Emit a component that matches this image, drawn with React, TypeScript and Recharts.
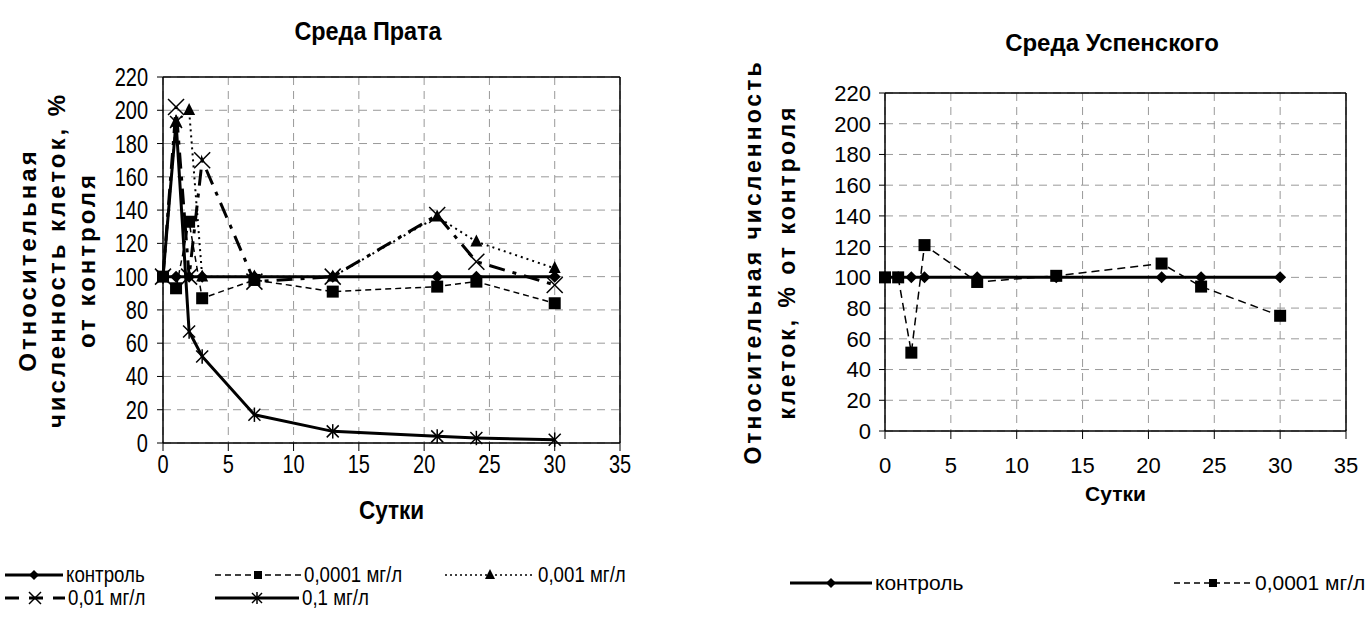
import React from 'react';
import {
  LineChart, Line, XAxis, YAxis, CartesianGrid, ReferenceLine, Label,
} from 'recharts';

const days: number[] = [0, 1, 2, 3, 7, 13, 21, 24, 30];

// Среда Прата
const prataControl: number[] = [100, 100, 100, 100, 100, 100, 100, 100, 100];
const prata0001: number[] = [100, 93, 133, 87, 98, 91, 94, 97, 84];
const prata001: number[] = [100, 193, 200, 100, 100, 100, 136, 121, 105];
const prata01: number[] = [100, 202, 100, 170, 97, 100, 137, 109, 95];
const prata1: number[] = [100, 193, 67, 52, 17, 7, 4, 3, 2];

// Среда Успенского
const uspControl: number[] = [100, 100, 100, 100, 100, 100, 100, 100, 100];
const usp0001: number[] = [100, 100, 51, 121, 97, 101, 109, 94, 75];

const xTicks: number[] = [0, 5, 10, 15, 20, 25, 30, 35];
const yTicks: number[] = [0, 20, 40, 60, 80, 100, 120, 140, 160, 180, 200, 220];

const prataData = days.map((d, i) => ({
  day: d,
  control: prataControl[i],
  c0001: prata0001[i],
  c001: prata001[i],
  c01: prata01[i],
  c1: prata1[i],
}));

const uspData = days.map((d, i) => ({
  day: d,
  control: uspControl[i],
  c0001: usp0001[i],
}));

const FONT = "'Liberation Sans', Arial, sans-serif";
const NARROW = 0.8; // left chart text is condensed in the original

type Kind = 'diamond' | 'square' | 'triangle' | 'cross' | 'star';

const Marker = ({ kind, cx, cy, s }: { kind: Kind; cx: number; cy: number; s: number }) => {
  if (kind === 'diamond') {
    return <polygon points={`${cx},${cy - s} ${cx + s},${cy} ${cx},${cy + s} ${cx - s},${cy}`} fill="#000" />;
  }
  if (kind === 'square') {
    return <rect x={cx - s} y={cy - s} width={s * 2} height={s * 2} fill="#000" />;
  }
  if (kind === 'triangle') {
    return <polygon points={`${cx},${cy - s * 1.2} ${cx + s},${cy + s * 0.8} ${cx - s},${cy + s * 0.8}`} fill="#000" />;
  }
  if (kind === 'cross') {
    return (
      <g stroke="#000" strokeWidth={1.5}>
        <line x1={cx - s} y1={cy - s} x2={cx + s} y2={cy + s} />
        <line x1={cx - s} y1={cy + s} x2={cx + s} y2={cy - s} />
      </g>
    );
  }
  return (
    <g stroke="#000" strokeWidth={1.5}>
      <line x1={cx - s} y1={cy - s} x2={cx + s} y2={cy + s} />
      <line x1={cx - s} y1={cy + s} x2={cx + s} y2={cy - s} />
      <line x1={cx} y1={cy - s * 1.2} x2={cx} y2={cy + s * 1.2} />
    </g>
  );
};

const dotOf = (kind: Kind, s: number, name: string) => (p: any) => (
  <Marker key={`${name}-${p.index}`} kind={kind} cx={p.cx} cy={p.cy} s={s} />
);

const tickOf = (axis: 'x' | 'y', size: number, sx: number) => (p: any) => {
  const { x, y, payload } = p;
  return (
    <text
      transform={`translate(${x},${y}) scale(${sx},1)`}
      textAnchor={axis === 'x' ? 'middle' : 'end'}
      dy={axis === 'x' ? size * 0.72 : size * 0.36}
      fontFamily={FONT}
      fontSize={size}
      fill="#000"
    >
      {payload.value}
    </text>
  );
};

const YLabel = ({ viewBox, lines, xs, size }: any) => {
  const cy = viewBox.y + viewBox.height / 2;
  return (
    <g>
      {lines.map((t: string, i: number) => (
        <text
          key={t}
          x={xs[i]}
          y={cy}
          transform={`rotate(-90 ${xs[i]} ${cy})`}
          textAnchor="middle"
          dominantBaseline="central"
          fontFamily={FONT}
          fontWeight="bold"
          fontSize={size}
          letterSpacing={3}
          fill="#000"
        >
          {t}
        </text>
      ))}
    </g>
  );
};

interface LegendItem {
  x: number;
  y: number;
  w: number;
  dash?: string;
  width: number;
  kind: Kind;
  s: number;
  text: string;
}

const prataLegend: LegendItem[] = [
  { x: 5, y: 575, w: 58, width: 3, kind: 'diamond', s: 5, text: 'контроль' },
  { x: 215, y: 575, w: 86, dash: '6 4', width: 1.5, kind: 'square', s: 4, text: '0,0001 мг/л' },
  { x: 445, y: 575, w: 90, dash: '2 3', width: 1.5, kind: 'triangle', s: 5, text: '0,001 мг/л' },
  { x: 5, y: 598, w: 60, dash: '14 10', width: 3, kind: 'cross', s: 6, text: '0,01 мг/л' },
  { x: 215, y: 598, w: 84, width: 3, kind: 'star', s: 5, text: '0,1 мг/л' },
];

const uspLegend: LegendItem[] = [
  { x: 790, y: 583, w: 82, width: 3, kind: 'diamond', s: 5, text: 'контроль' },
  { x: 1174, y: 583, w: 78, dash: '6 4', width: 1.5, kind: 'square', s: 4, text: '0,0001 мг/л' },
];

const LegendRow = ({ items, size, sx }: { items: LegendItem[]; size: number; sx: number }) => (
  <>
    {items.map((it) => (
      <div
        key={it.text}
        style={{
          position: 'absolute', left: it.x, top: it.y - 10, height: 20, lineHeight: '20px',
          display: 'flex', alignItems: 'center', whiteSpace: 'nowrap',
          fontFamily: FONT, fontSize: size, color: '#000',
        }}
      >
        <svg width={it.w} height={20}>
          <line x1={0} y1={10} x2={it.w} y2={10} stroke="#000" strokeWidth={it.width} strokeDasharray={it.dash} />
          <Marker kind={it.kind} cx={it.w / 2} cy={10} s={it.s} />
        </svg>
        <span
          style={{
            marginLeft: 3, display: 'inline-block', height: 20, lineHeight: '20px',
            transform: `scaleX(${sx})`, transformOrigin: 'left center',
          }}
        >
          {it.text}
        </span>
      </div>
    ))}
  </>
);

const gridStroke = '#999';

const App: React.FC = () => {
  return (
    <div style={{ position: 'absolute', left: 0, top: 0, width: 1367, height: 633, background: '#fff' }}>
      <div
        style={{
          position: 'absolute', left: 368, top: 16, transform: 'translateX(-50%) scaleX(0.9)',
          fontFamily: FONT, fontWeight: 'bold', fontSize: 26, whiteSpace: 'nowrap',
        }}
      >
        Среда Прата
      </div>
      <div
        style={{
          position: 'absolute', left: 1112, top: 29, transform: 'translateX(-50%)',
          fontFamily: FONT, fontWeight: 'bold', fontSize: 24, whiteSpace: 'nowrap',
        }}
      >
        Среда Успенского
      </div>

      <div style={{ position: 'absolute', left: 0, top: 0 }}>
        <LineChart width={690} height={633} data={prataData} margin={{ top: 77, right: 70, left: 0, bottom: 160 }}>
          <CartesianGrid stroke={gridStroke} strokeDasharray="8 6" />
          <XAxis
            dataKey="day" type="number" domain={[0, 35]} ticks={xTicks} interval={0}
            height={30} tickSize={8} tickMargin={4}
            axisLine={{ stroke: '#000', strokeWidth: 1.5 }} tickLine={{ stroke: '#000' }}
            tick={tickOf('x', 25, NARROW)}
          >
            <Label
              content={(props: any) => {
                const vb = props.viewBox;
                const cx = vb.x + vb.width / 2;
                return (
                  <text
                    transform={`translate(${cx},${vb.y + vb.height + 46}) scale(0.9,1)`}
                    textAnchor="middle" fontFamily={FONT} fontWeight="bold" fontSize={25} fill="#000"
                  >
                    Сутки
                  </text>
                );
              }}
            />
          </XAxis>
          <YAxis
            type="number" domain={[0, 220]} ticks={yTicks} interval={0} width={163}
            tickSize={6} tickMargin={9}
            axisLine={{ stroke: '#000', strokeWidth: 1.5 }} tickLine={{ stroke: '#000' }}
            tick={tickOf('y', 25, NARROW)}
          >
            <Label
              content={(props: any) => (
                <YLabel viewBox={props.viewBox} lines={['Относительная', 'численность клеток, %', 'от контроля']} xs={[27, 56, 86]} size={24} />
              )}
            />
          </YAxis>
          <ReferenceLine y={220} stroke="#000" strokeWidth={1.5} />
          <ReferenceLine x={35} stroke="#000" strokeWidth={1.5} />
          <Line dataKey="c0001" stroke="#000" strokeWidth={1.5} strokeDasharray="6 4" dot={dotOf('square', 6, 'pc0001')} isAnimationActive={false} />
          <Line dataKey="c001" stroke="#000" strokeWidth={2} strokeDasharray="2 4" dot={dotOf('triangle', 6, 'pc001')} isAnimationActive={false} />
          <Line dataKey="c01" stroke="#000" strokeWidth={3} strokeDasharray="16 8 4 8" dot={dotOf('cross', 8, 'pc01')} isAnimationActive={false} />
          <Line dataKey="c1" stroke="#000" strokeWidth={3} dot={dotOf('star', 6, 'pc1')} isAnimationActive={false} />
          <Line dataKey="control" stroke="#000" strokeWidth={3} dot={dotOf('diamond', 6, 'pcontrol')} isAnimationActive={false} />
        </LineChart>
      </div>

      <div style={{ position: 'absolute', left: 690, top: 0 }}>
        <LineChart width={677} height={633} data={uspData} margin={{ top: 93, right: 21, left: 0, bottom: 172 }}>
          <CartesianGrid stroke={gridStroke} strokeDasharray="8 6" />
          <XAxis
            dataKey="day" type="number" domain={[0, 35]} ticks={xTicks} interval={0}
            height={30} tickSize={8} tickMargin={18}
            axisLine={{ stroke: '#000', strokeWidth: 1.5 }} tickLine={{ stroke: '#000' }}
            tick={tickOf('x', 22, 1)}
          >
            <Label
              value="Сутки" position="bottom" offset={25}
              style={{ fontFamily: FONT, fontWeight: 'bold', fontSize: 21, fill: '#000' }}
            />
          </XAxis>
          <YAxis
            type="number" domain={[0, 220]} ticks={yTicks} interval={0} width={195}
            tickSize={6} tickMargin={8}
            axisLine={{ stroke: '#000', strokeWidth: 1.5 }} tickLine={{ stroke: '#000' }}
            tick={tickOf('y', 22, 1)}
          >
            <Label
              content={(props: any) => (
                <YLabel viewBox={props.viewBox} lines={['Относительная численность', 'клеток, % от контроля']} xs={[63, 97]} size={23} />
              )}
            />
          </YAxis>
          <ReferenceLine y={220} stroke="#000" strokeWidth={1.5} />
          <ReferenceLine x={35} stroke="#000" strokeWidth={1.5} />
          <Line dataKey="c0001" stroke="#000" strokeWidth={1.5} strokeDasharray="8 5" dot={dotOf('square', 6, 'uc0001')} isAnimationActive={false} />
          <Line dataKey="control" stroke="#000" strokeWidth={3} dot={dotOf('diamond', 6, 'ucontrol')} isAnimationActive={false} />
        </LineChart>
      </div>

      <LegendRow items={prataLegend} size={22} sx={0.85} />
      <LegendRow items={uspLegend} size={21} sx={1} />
    </div>
  );
};

export default App;
